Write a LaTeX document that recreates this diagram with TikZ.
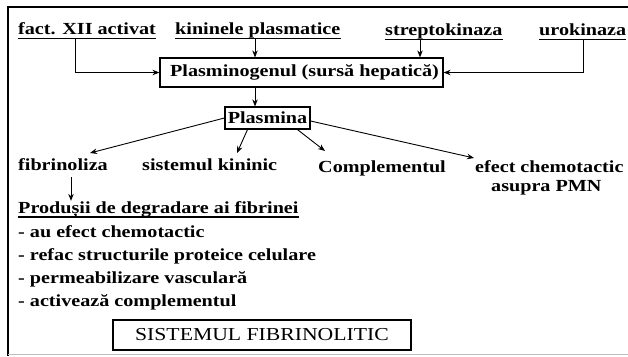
\documentclass[tikz,border=0pt]{standalone}
\usepackage{fontspec}
\setmainfont[FakeStretch=1.19]{Liberation Serif}
\usetikzlibrary{arrows.meta}
\begin{document}
\begin{tikzpicture}[x=1bp,y=-1bp,
  font=\fontsize{17}{19}\selectfont\bfseries,
  lbl/.style={inner sep=0pt, anchor=base west},
  boxnode/.style={draw, line width=1.2bp, inner sep=0pt},
  arr/.style={-{Stealth[length=7bp,width=5.5bp]}, line width=0.9bp},
  ul/.style={line width=1.1bp}]
\useasboundingbox (0,0) rectangle (628,356);
\draw[line width=1.3bp] (628,7) -- (8,7) -- (8,356);
\draw[black!25, line width=0.8bp] (8,354.5) -- (628,354.5);
% top sources
\node[lbl] (f) at (18,34) {fact. XII activat};
\node[lbl] (k) at (175,34) {kininele plasmatice};
\node[lbl] (s) at (385,35) {streptokinaza};
\node[lbl] (u) at (539,35) {urokinaza};
\foreach \n in {f,k,s,u}
  \draw[ul] ([yshift=-4.5bp]\n.base west) -- ([yshift=-4.5bp]\n.base east);
% boxes
\node[boxnode, minimum width=283bp, minimum height=29bp] (P) at (301.5,72.5) {\hspace{6bp}Plasminogenul (sursă hepatică)};
\node[boxnode, minimum width=85bp, minimum height=22bp] (Pl) at (267.5,118) {Plasmina};
% arrows into P
\coordinate (fa) at ([xshift=57bp,yshift=-4.5bp]f.base west);
\coordinate (ka) at ([xshift=80bp,yshift=-4.5bp]k.base west);
\coordinate (sa) at ([xshift=35bp,yshift=-4.5bp]s.base west);
\coordinate (ua) at ([xshift=44bp,yshift=-4.5bp]u.base west);
\draw[arr] (fa) |- (P.west);
\draw[arr] (ka) -- (ka |- P.north);
\draw[arr] (sa) -- (sa |- P.north);
\draw[arr] (ua) |- (P.east);
\coordinate (pt) at ([xshift=-12.5bp]Pl.north);
\draw[arr] (P.south -| pt) -- (pt);
% products
\node[lbl] (fib) at (18,170) {fibrinoliza};
\node[lbl] (sk) at (142,170) {sistemul kininic};
\node[lbl] (C) at (318,172) {Complementul};
\node[lbl] (e1) at (475,172) {efect chemotactic};
\node[inner sep=0pt, anchor=base] (e2) at ([xshift=-3bp,yshift=-19bp]e1.base) {asupra PMN};
\draw[arr] (Pl.west) -- ([xshift=72bp,yshift=17bp]fib.base west);
\draw[arr] ([xshift=-20bp]Pl.south) -- ([xshift=95bp,yshift=17bp]sk.base west);
\draw[arr] ([xshift=30bp]Pl.south) -- ([xshift=7bp,yshift=21bp]C.base west);
\draw[arr] ([yshift=-3bp]Pl.east) -- ([xshift=-1bp,yshift=14bp]e1.base west);
% degradation products
\node[lbl] (pd) at (18,213) {Produșii de degradare ai fibrinei};
\draw[ul] ([yshift=-4bp]pd.base west) -- ([yshift=-4bp]pd.base east);
\coordinate (fd) at ([xshift=53bp,yshift=-7bp]fib.base west);
\draw[arr] (fd) -- (fd |- pd.north);
\node[lbl] (l1) at (18,237.5) {- au efect chemotactic};
\node[lbl] (l2) at (18,260.5) {- refac structurile proteice celulare};
\node[lbl] (l3) at (18,283.5) {- permeabilizare vasculară};
\node[lbl] (l4) at (18,306.5) {- activează complementul};
% title
\node[boxnode, font=\fontsize{18.3}{21}\selectfont\mdseries, minimum width=298bp, minimum height=30bp] (T) at (262,335) {SISTEMUL FIBRINOLITIC};
\end{tikzpicture}
\end{document}
